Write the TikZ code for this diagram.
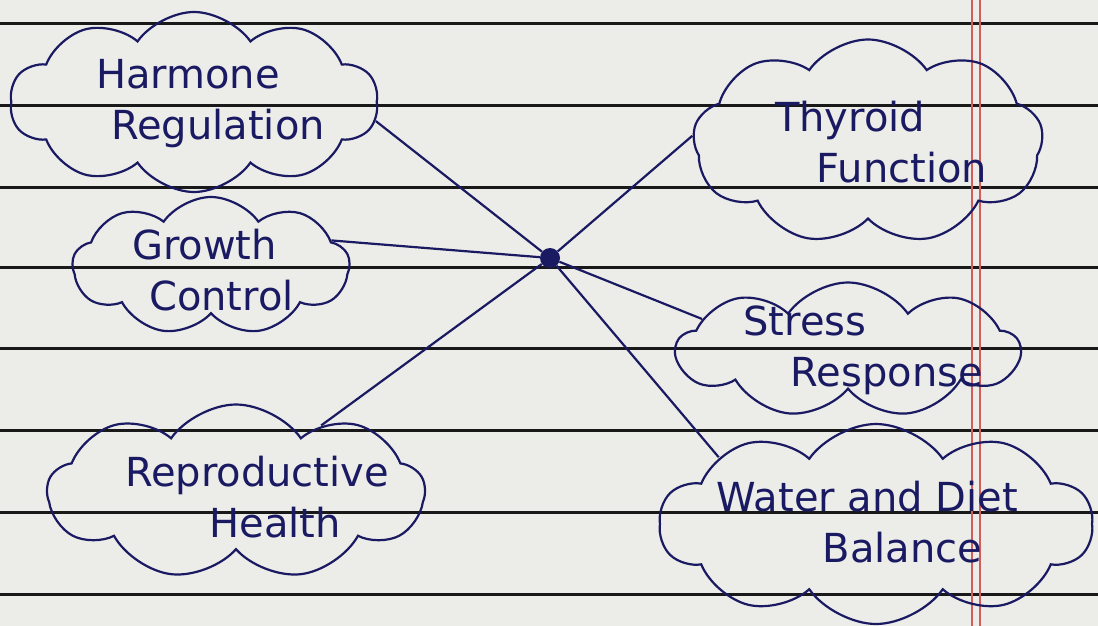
\documentclass[tikz,border=0pt]{standalone}
\usepackage{fontspec}
\setmainfont{DejaVu Sans}
\usetikzlibrary{shapes.symbols}
\definecolor{paper}{RGB}{236,236,233}
\definecolor{ink}{RGB}{26,26,98}
\definecolor{ruling}{RGB}{25,25,25}
\definecolor{margin}{RGB}{214,92,92}
\begin{document}
\begin{tikzpicture}[x=1pt,y=-1pt,
  bubble/.style={cloud, cloud ignores aspect, draw=ink, line width=2.2pt, cloud puff arc=110, inner sep=0pt},
  words/.style={text=ink, font=\fontsize{40}{51}\selectfont, align=center, inner sep=0pt},
  link/.style={draw=ink, line width=2.2pt},
  hubdot/.style={circle, fill=ink, minimum size=20pt, inner sep=0pt}]
\fill[paper] (0,0) rectangle (1098,626);
\useasboundingbox (0,0) rectangle (1098,626);
\foreach \yy in {24,105,187,267,348,430,512,594}
  \draw[ruling, line width=3pt] (0,\yy) -- (1098,\yy);
\draw[margin, line width=1.6pt] (972,0) -- (972,626);
\draw[margin, line width=1.6pt] (980,0) -- (980,626);

% clouds
\node[bubble, cloud puffs=10, minimum width=368pt, minimum height=180pt] (harm) at (194,102) {};
\node[bubble, cloud puffs=9, minimum width=277pt, minimum height=138pt] (grow) at (211,266) {};
\node[bubble, cloud puffs=9, minimum width=377pt, minimum height=175pt] (repr) at (236,492) {};
\node[bubble, cloud puffs=9, minimum width=350pt, minimum height=205pt] (thyr) at (868,142) {};
\node[bubble, cloud puffs=9, minimum width=343pt, minimum height=135pt] (stre) at (848,350) {};
\node[bubble, cloud puffs=10, minimum width=433pt, minimum height=200pt] (watr) at (876,524) {};

% texts
\node[words] (harmT) at (203,104) {Harmone\hspace*{30pt}\\\hspace*{30pt}Regulation};
\node[words] (growT) at (213,270) {Growth\hspace*{17pt}\\\hspace*{17pt}Control};
\node[words] (reprT) at (266,497) {Reproductive\hspace*{18pt}\\\hspace*{18pt}Health};
\node[words] (thyrT) at (876,142) {Thyroid\hspace*{52pt}\\\hspace*{52pt}Function};
\node[words] (streT) at (846,350) {Stress\hspace*{82pt}\\\hspace*{82pt}Response};
\node[words] (watrT) at (885,522) {Water and Diet\hspace*{35pt}\\\hspace*{35pt}Balance};

% hub and links
\node[hubdot] (hub) at (550,258) {};
\draw[link] (hub) -- (harm.-6);
\draw[link] (hub) -- (grow.12);
\draw[link] (hub) -- (repr.38);
\draw[link] (hub) -- (thyr.178);
\draw[link] (hub) -- (stre.168);
\draw[link] (hub) -- (watr.157);
\end{tikzpicture}
\end{document}
